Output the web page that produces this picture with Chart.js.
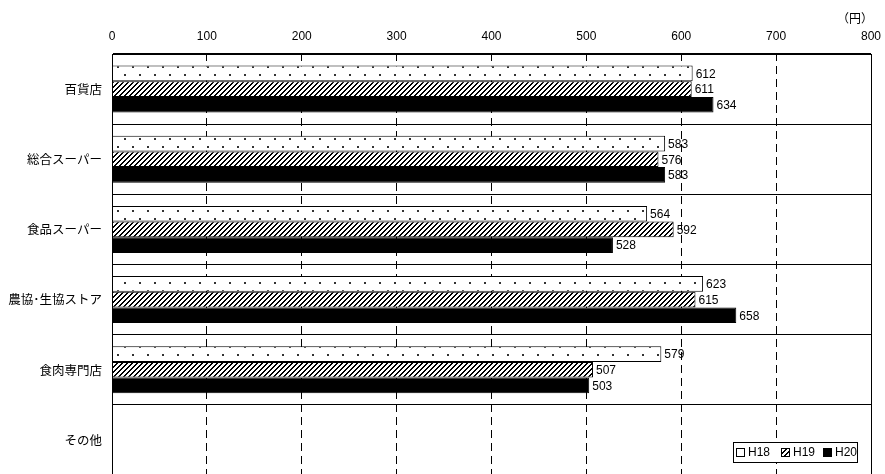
<!DOCTYPE html>
<html>
<head>
<meta charset="utf-8">
<script src="https://cdn.jsdelivr.net/npm/chart.js@4/dist/chart.umd.min.js"></script>
<style>
  html, body { margin: 0; padding: 0; background: #fff; overflow: hidden; }
</style>
</head>
<body>
<canvas id="chart" width="885" height="475"></canvas>
<script>
const categories = ['百貨店', '総合スーパー', '食品スーパー', '農協･生協ストア', '食肉専門店', 'その他'];
const seriesNames = ['H18', 'H19', 'H20'];
const h18 = [612, 583, 564, 623, 579, null];
const h19 = [611, 576, 592, 615, 507, null];
const h20 = [634, 583, 528, 658, 503, null];
const xTicks = [0, 100, 200, 300, 400, 500, 600, 700, 800];
const unitLabel = '（円）';

const numFont = '12px "Liberation Sans", Arial, sans-serif';
const jpFont = '"Noto Sans CJK JP", sans-serif';

// fill patterns
const makeDots = () => {
  const c = document.createElement('canvas');
  c.width = 15; c.height = 16;
  const g = c.getContext('2d');
  g.fillStyle = '#fff';
  g.fillRect(0, 0, 15, 16);
  g.fillStyle = '#333';
  g.fillRect(12, 2, 2, 2);
  g.fillRect(4, 10, 2, 2);
  return g.createPattern(c, 'repeat');
};
const makeHatch = () => {
  const c = document.createElement('canvas');
  c.width = 5; c.height = 5;
  const g = c.getContext('2d');
  g.fillStyle = '#fff';
  g.fillRect(0, 0, 5, 5);
  g.fillStyle = '#000';
  for (let i = 0; i < 5; i++) {
    g.fillRect(i, 4 - i, 1, 1);
    g.fillRect((i + 1) % 5, 4 - i, 1, 1);
  }
  return g.createPattern(c, 'repeat');
};
const dots = makeDots();
const hatch = makeHatch();
const fills = [dots, hatch, '#000'];

const valueLabels = {
  id: 'valueLabels',
  afterDatasetsDraw(chart) {
    const ctx = chart.ctx;
    ctx.save();
    ctx.font = numFont;
    ctx.fillStyle = '#000';
    ctx.textBaseline = 'middle';
    ctx.textAlign = 'left';
    chart.data.datasets.forEach((ds, i) => {
      chart.getDatasetMeta(i).data.forEach((bar, j) => {
        if (ds.data[j] == null) return;
        ctx.fillText(ds.data[j], bar.x + 3, bar.y + 1);
      });
    });
    ctx.restore();
  }
};

const frameAndLegend = {
  id: 'frameAndLegend',
  afterDraw(chart) {
    const ctx = chart.ctx;
    const a = chart.chartArea;
    ctx.save();
    ctx.strokeStyle = '#000';
    ctx.lineWidth = 1;
    ctx.strokeRect(Math.round(a.left) + 0.5, Math.round(a.top) + 0.5, Math.round(a.right - a.left), Math.round(a.bottom - a.top));

    // unit
    ctx.font = '12px ' + jpFont;
    ctx.fillStyle = '#000';
    ctx.textAlign = 'right';
    ctx.textBaseline = 'middle';
    ctx.fillText(unitLabel, 873, 18);

    // legend box
    const lx = 733, ly = 442, lw = 124, lh = 20;
    ctx.fillStyle = '#fff';
    ctx.fillRect(lx, ly, lw, lh);
    ctx.strokeRect(lx + 0.5, ly + 0.5, lw, lh);
    ctx.font = numFont;
    ctx.textAlign = 'left';
    const itemX = [736, 781, 823];
    seriesNames.forEach((name, i) => {
      const bx = itemX[i], by = ly + 6;
      ctx.fillStyle = i === 1 ? hatch : (i === 2 ? '#000' : '#fff');
      ctx.fillRect(bx, by, 9, 9);
      ctx.strokeRect(bx + 0.5, by + 0.5, 8, 8);
      ctx.fillStyle = '#000';
      ctx.fillText(name, bx + 12, ly + 11);
    });
    ctx.restore();
  }
};

new Chart(document.getElementById('chart'), {
  type: 'bar',
  data: {
    labels: categories,
    datasets: seriesNames.map((name, i) => ({
      label: name,
      data: [h18, h19, h20][i],
      backgroundColor: fills[i],
      borderColor: '#000',
      borderWidth: 1,
      barPercentage: 1,
      categoryPercentage: 0.67,
    })),
  },
  options: {
    indexAxis: 'y',
    responsive: false,
    animation: false,
    layout: { padding: { left: 0, right: 14, top: 0, bottom: 0 } },
    plugins: {
      legend: { display: false },
      tooltip: { enabled: false },
    },
    scales: {
      x: {
        position: 'top',
        min: 0,
        max: 800,
        afterBuildTicks: (scale) => {
          scale.ticks = xTicks.map((v) => ({ value: v }));
        },
        afterFit: (scale) => {
          scale.height = 54;
          scale.paddingLeft = 0;
          scale.paddingRight = 0;
        },
        ticks: {
          color: '#000',
          font: { family: '"Liberation Sans", Arial, sans-serif', size: 12 },
          padding: 10,
          maxRotation: 0,
        },
        grid: { color: '#000', lineWidth: 1, drawTicks: false },
        border: { color: '#000', width: 1, dash: [8, 5], dashOffset: 2 },
      },
      y: {
        afterFit: (scale) => {
          scale.width = 112;
          scale.paddingTop = 0;
          scale.paddingBottom = 0;
        },
        ticks: {
          color: '#000',
          font: { family: jpFont, size: 12.5 },
          padding: 10,
        },
        grid: { color: '#000', lineWidth: 1, drawTicks: false, offset: true },
        border: { color: '#000', width: 1 },
      },
    },
  },
  plugins: [valueLabels, frameAndLegend],
});
</script>
</body>
</html>
